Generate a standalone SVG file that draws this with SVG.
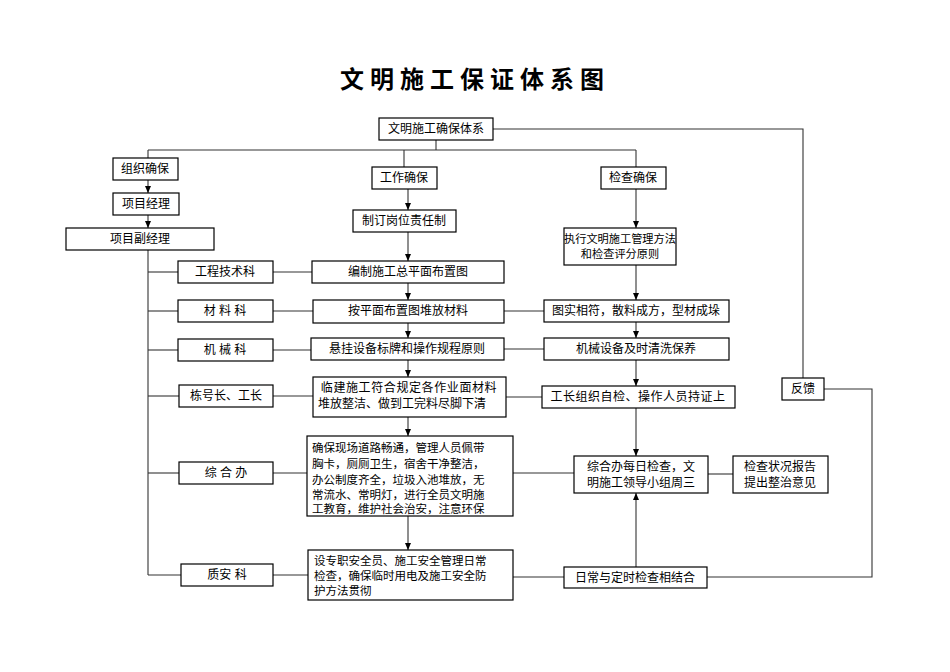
<svg xmlns="http://www.w3.org/2000/svg" width="950" height="672" viewBox="0 0 950 672">
<defs>
<marker id="a" markerWidth="8" markerHeight="8" refX="7" refY="4" orient="auto" markerUnits="userSpaceOnUse"><path d="M0,1 L7,4 L0,7 Z" fill="#000"/></marker>
<style>
rect{fill:#fff;stroke:#000;stroke-width:1.2}
text{font-family:"Liberation Sans","Noto Sans CJK SC",sans-serif;font-size:12px;fill:#000;text-anchor:middle}
.s{font-size:11.2px}
.l{text-anchor:start;font-size:11.5px}
.c line,.c polyline{stroke:#333;stroke-width:1.1;fill:none}
.ar{marker-end:url(#a)}
</style>
</defs>
<rect x="0" y="0" width="950" height="672" style="stroke:none"/>
<text x="475" y="88" style="font-size:24px;font-weight:bold;letter-spacing:6px">文明施工保证体系图</text>
<g class="c">
<line x1="436" y1="140" x2="436" y2="150"/>
<line x1="148" y1="150" x2="636" y2="150"/>
<line x1="148" y1="150" x2="148" y2="158"/>
<line x1="404" y1="150" x2="404" y2="167"/>
<line x1="636" y1="150" x2="636" y2="167"/>
<polyline points="493,129 803,129 803,378"/>
<polyline points="824,389 872,389 872,577 707,577"/>
<line class="ar" x1="148" y1="180" x2="148" y2="193"/>
<line class="ar" x1="148" y1="215" x2="148" y2="228"/>
<line x1="148" y1="250" x2="148" y2="575"/>
<line x1="148" y1="272" x2="178" y2="272"/>
<line x1="148" y1="311" x2="178" y2="311"/>
<line x1="148" y1="350" x2="178" y2="350"/>
<line x1="148" y1="396" x2="179" y2="396"/>
<line x1="148" y1="473" x2="179" y2="473"/>
<line x1="148" y1="575" x2="181" y2="575"/>
<line x1="273" y1="272" x2="312" y2="272"/>
<line x1="273" y1="311" x2="313" y2="311"/>
<line x1="273" y1="350" x2="311" y2="350"/>
<line x1="273" y1="396" x2="313" y2="396"/>
<line x1="273" y1="473" x2="307" y2="473"/>
<line x1="273" y1="575" x2="308" y2="575"/>
<line x1="504" y1="311" x2="544" y2="311"/>
<line x1="504" y1="349" x2="544" y2="349"/>
<line x1="506" y1="397" x2="542" y2="397"/>
<line x1="513" y1="473" x2="574" y2="473"/>
<line x1="708" y1="474" x2="733" y2="474"/>
<line x1="513" y1="577" x2="564" y2="577"/>
<line class="ar" x1="408" y1="189" x2="408" y2="210"/>
<line class="ar" x1="408" y1="232" x2="408" y2="261"/>
<line class="ar" x1="408" y1="283" x2="408" y2="300"/>
<line class="ar" x1="408" y1="323" x2="408" y2="338"/>
<line class="ar" x1="408" y1="360" x2="408" y2="377"/>
<line class="ar" x1="408" y1="417" x2="408" y2="436"/>
<line class="ar" x1="408" y1="516" x2="408" y2="550"/>
<line class="ar" x1="636" y1="189" x2="636" y2="228"/>
<line class="ar" x1="636" y1="265" x2="636" y2="300"/>
<line class="ar" x1="636" y1="322" x2="636" y2="338"/>
<line class="ar" x1="636" y1="360" x2="636" y2="386"/>
<line class="ar" x1="636" y1="408" x2="636" y2="456"/>
<line class="ar" x1="636" y1="567" x2="636" y2="493"/>
</g>
<g id="n1"><rect x="379" y="118" width="114" height="22"/><text x="436" y="133">文明施工确保体系</text></g>
<g id="n2"><rect x="113" y="158" width="65" height="22"/><text x="145" y="173">组织确保</text></g>
<g id="n3"><rect x="113" y="193" width="66" height="22"/><text x="146" y="208">项目经理</text></g>
<g id="n4"><rect x="66" y="228" width="148" height="22"/><text x="140" y="243">项目副经理</text></g>
<g id="n5"><rect x="372" y="167" width="65" height="22"/><text x="404" y="182">工作确保</text></g>
<g id="n6"><rect x="353" y="210" width="103" height="22"/><text x="404" y="225">制订岗位责任制</text></g>
<g id="n7"><rect x="601" y="167" width="65" height="22"/><text x="633" y="182">检查确保</text></g>
<g id="n8"><rect x="564" y="228" width="112" height="37"/><text class="s" x="620" y="243">执行文明施工管理方法</text><text class="s" x="620" y="258">和检查评分原则</text></g>
<g id="n9"><rect x="178" y="261" width="95" height="22"/><text x="225" y="276">工程技术科</text></g>
<g id="n10"><rect x="312" y="261" width="192" height="22"/><text x="408" y="276">编制施工总平面布置图</text></g>
<g id="n11"><rect x="178" y="300" width="95" height="22"/><text x="225" y="315">材 料 科</text></g>
<g id="n12"><rect x="313" y="300" width="191" height="23"/><text x="408" y="315">按平面布置图堆放材料</text></g>
<g id="n13"><rect x="544" y="300" width="185" height="22"/><text x="636" y="315">图实相符，散料成方，型材成垛</text></g>
<g id="n14"><rect x="178" y="339" width="95" height="22"/><text x="225" y="354">机 械 科</text></g>
<g id="n15"><rect x="311" y="338" width="193" height="22"/><text x="407" y="353">悬挂设备标牌和操作规程原则</text></g>
<g id="n16"><rect x="544" y="338" width="185" height="22"/><text x="636" y="353">机械设备及时清洗保养</text></g>
<g id="n17"><rect x="179" y="385" width="94" height="22"/><text x="226" y="400">栋号长、工长</text></g>
<g id="n18"><rect x="313" y="377" width="193" height="40"/><text x="409" y="392" style="letter-spacing:0.6px">临建施工符合规定各作业面材料</text><text x="402" y="408">堆放整洁、做到工完料尽脚下清</text></g>
<g id="n19"><rect x="542" y="386" width="193" height="22"/><text x="638" y="401" style="letter-spacing:0.5px">工长组织自检、操作人员持证上</text></g>
<g id="n20"><rect x="782" y="378" width="42" height="22"/><text x="803" y="393">反馈</text></g>
<g id="n21"><rect x="179" y="462" width="94" height="22"/><text x="226" y="477">综 合 办</text></g>
<g id="n22"><rect x="307" y="436" width="206" height="80"/>
<text class="l" x="312" y="452">确保现场道路畅通，管理人员佩带</text>
<text class="l" x="312" y="468">胸卡，厕厕卫生，宿舍干净整洁，</text>
<text class="l" x="312" y="484">办公制度齐全，垃圾入池堆放，无</text>
<text class="l" x="312" y="499">常流水、常明灯，进行全员文明施</text>
<text class="l" x="312" y="513">工教育，维护社会治安，注意环保</text></g>
<g id="n23"><rect x="574" y="456" width="134" height="37"/><text x="641" y="471">综合办每日检查，文</text><text x="641" y="487">明施工领导小组周三</text></g>
<g id="n24"><rect x="733" y="456" width="95" height="37"/><text x="780" y="471">检查状况报告</text><text x="780" y="487">提出整治意见</text></g>
<g id="n25"><rect x="181" y="564" width="92" height="22"/><text x="227" y="579">质安 科</text></g>
<g id="n26"><rect x="308" y="550" width="205" height="50"/>
<text class="l" x="314" y="565">设专职安全员、施工安全管理日常</text>
<text class="l" x="314" y="580">检查，确保临时用电及施工安全防</text>
<text class="l" x="314" y="595">护方法贯彻</text></g>
<g id="n27"><rect x="564" y="567" width="143" height="21"/><text x="635" y="582">日常与定时检查相结合</text></g>
</svg>
